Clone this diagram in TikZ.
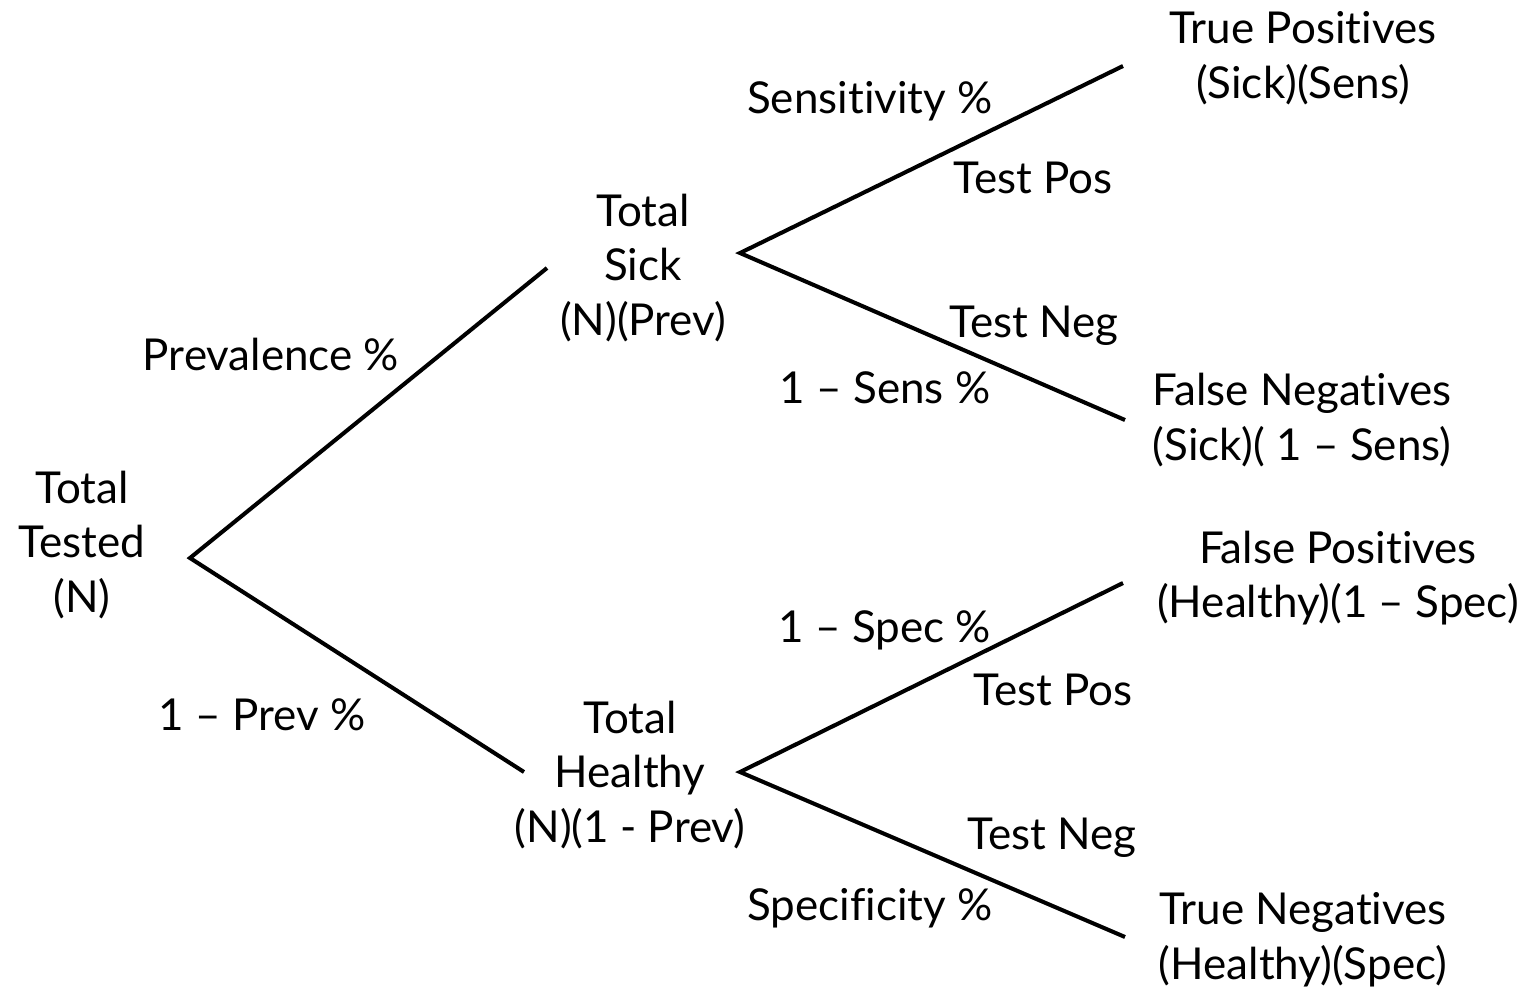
\documentclass[tikz,border=0pt]{standalone}
\usepackage{fontspec}
\setmainfont{Lato}[Ligatures={NoCommon}]

\begin{document}
\begin{tikzpicture}[x=0.01cm, y=-0.01cm, font=\fontsize{12.5}{15.6}\selectfont,
  every node/.style={align=center, inner sep=0pt}, branch/.style={line width=1.15pt}]
  \useasboundingbox (0,0) rectangle (1529,993);
  % tips of the branches
  \coordinate (root) at (190,558);
  \coordinate (sick) at (740,253);
  \coordinate (healthy) at (740,772);
  \coordinate (sickin) at (547,268);
  \coordinate (healthyin) at (524,772);
  \coordinate (tp) at (1123,66);
  \coordinate (fn) at (1125,420);
  \coordinate (fp) at (1123,583);
  \coordinate (tn) at (1125,937);

  \node (tested) at (82,545) {Total\\Tested\\(N)};
  \node (sicktext) at (643,268) {Total\\Sick\\(N)(Prev)};
  \node (healthytext) at (630,775) {Total\\Healthy\\(N)(1 - Prev)};
  \node (tptext) at (1303,58) {True Positives\\(Sick)(Sens)};
  \node (fntext) at (1302,420) {False Negatives\\(Sick)( 1 – Sens)};
  \node (fptext) at (1338,578) {False Positives\\(Healthy)(1 – Spec)};
  \node (tntext) at (1303,940) {True Negatives\\(Healthy)(Spec)};

  \draw[branch] (sickin) -- (root) -- (healthyin);
  \draw[branch] (tp) -- (sick) -- (fn);
  \draw[branch] (fp) -- (healthy) -- (tn);

  \node (prev) at (271,354) {Prevalence \%};
  \node (notprev) at (262,715) {1 – Prev \%};
  \node (sens) at (870,101) {Sensitivity \%};
  \node (pos1) at (1033,178) {Test Pos};
  \node (neg1) at (1034,326) {Test Neg};
  \node (notsens) at (885,388) {1 – Sens \%};
  \node (notspec) at (885,630) {1 – Spec \%};
  \node (pos2) at (1053,690) {Test Pos};
  \node (neg2) at (1052,838) {Test Neg};
  \node (spec) at (870,908) {Specificity \%};
\end{tikzpicture}
\end{document}
